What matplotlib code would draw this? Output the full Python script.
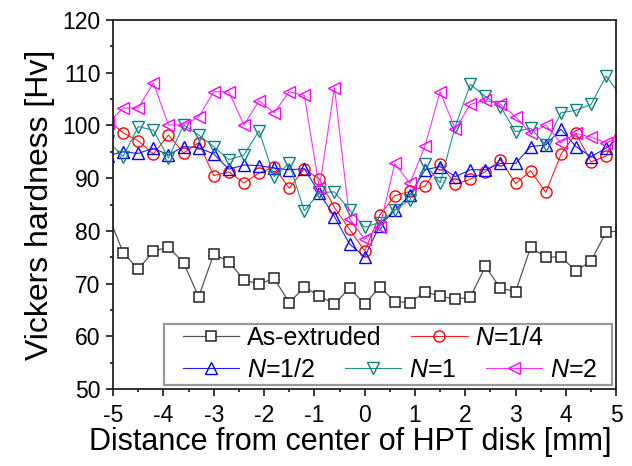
import matplotlib
matplotlib.use("Agg")
import matplotlib.pyplot as plt
from matplotlib.patches import Rectangle
from matplotlib.ticker import MultipleLocator

plt.rc("font", family="Liberation Sans")
plt.rc("mathtext", fontset="custom", it="Liberation Sans:italic", rm="Liberation Sans")
plt.rc("axes", unicode_minus=False)

# distance from disk center [mm]
x = [-5.1, -4.8, -4.5, -4.2, -3.9, -3.6, -3.3, -3.0, -2.7, -2.4, -2.1, -1.8,
     -1.5, -1.2, -0.9, -0.6, -0.3, 0.0, 0.3, 0.6, 0.9, 1.2, 1.5, 1.8, 2.1,
     2.4, 2.7, 3.0, 3.3, 3.6, 3.9, 4.2, 4.5, 4.8, 5.1]

hv_extruded = [83.0, 75.9, 72.7, 76.2, 76.9, 74.0, 67.5, 75.6, 74.2, 70.7, 69.9, 71.0,
               66.4, 69.3, 67.7, 66.1, 69.2, 66.1, 69.4, 66.6, 66.4, 68.5, 67.6, 67.1,
               67.4, 73.3, 69.1, 68.5, 76.9, 75.0, 75.1, 72.4, 74.3, 79.8, 80.0]
hv_n14 = [101.0, 98.6, 97.1, 94.6, 98.2, 94.8, 96.7, 90.5, 91.2, 89.1, 91.0, 92.1,
          88.1, 91.8, 89.8, 84.4, 80.3, 76.2, 83.0, 86.7, 87.5, 88.5, 92.7, 88.9,
          89.8, 91.2, 93.5, 89.0, 91.4, 87.3, 94.5, 98.5, 93.1, 94.2, 101.0]
hv_n12 = [94.3, 95.0, 94.7, 95.7, 94.4, 96.0, 95.8, 94.6, 91.7, 92.5, 92.4, 91.9,
          91.6, 91.8, 87.2, 82.7, 77.5, 75.1, 81.0, 83.9, 86.8, 91.6, 92.2, 90.3,
          91.6, 91.6, 92.8, 92.8, 96.0, 96.3, 99.3, 96.0, 94.1, 95.7, 98.0]
hv_n1 = [97.0, 94.1, 99.8, 99.1, 93.8, 100.1, 98.2, 96.0, 93.5, 94.4, 99.0, 90.3,
         92.8, 83.8, 87.3, 87.4, 84.0, 80.7, 81.6, 84.0, 85.9, 92.7, 89.1, 99.8,
         107.8, 105.5, 103.6, 98.8, 99.5, 96.3, 102.4, 102.9, 104.0, 109.4, 105.5]
hv_n2 = [100.5, 103.3, 103.3, 108.1, 100.1, 100.1, 101.6, 106.4, 106.4, 100.1, 104.7, 102.4,
         106.4, 105.7, 88.1, 107.2, 82.3, 78.4, 80.8, 92.8, 89.0, 96.1, 106.4, 99.3,
         104.0, 104.8, 104.0, 101.7, 98.5, 100.1, 96.7, 98.5, 97.8, 96.7, 98.0]

fig = plt.figure(figsize=(6.32, 4.66), dpi=100)
ax = fig.add_axes([0.179, 0.165, 0.796, 0.792])

h1, = ax.plot(x, hv_extruded, "-s", color="#555555", mec="#222222", mfc="white",
              ms=7.5, mew=1.1, lw=0.9, label="As-extruded")
h2, = ax.plot(x, hv_n14, "-o", color="#ff2020", mec="#ff0000", mfc="none",
              ms=8, mew=1.0, lw=0.8, label="$N$=1/4")
h3, = ax.plot(x, hv_n12, "-^", color="#2020ff", mec="#0000ff", mfc="none",
              ms=8.5, mew=1.0, lw=0.8, label="$N$=1/2")
h4, = ax.plot(x, hv_n1, "-v", color="#209090", mec="#108080", mfc="none",
              ms=8.5, mew=1.0, lw=0.8, label="$N$=1")
h5, = ax.plot(x, hv_n2, "-<", color="#ff30ff", mec="#ff00ff", mfc="none",
              ms=8.5, mew=1.0, lw=0.8, label="$N$=2")

ax.set_xlim(-5, 5)
ax.set_ylim(50, 120)
ax.xaxis.set_major_locator(MultipleLocator(1))
ax.xaxis.set_minor_locator(MultipleLocator(0.5))
ax.yaxis.set_major_locator(MultipleLocator(10))
ax.yaxis.set_minor_locator(MultipleLocator(5))
ax.tick_params(which="both", direction="out", top=False, right=False, width=1.1, labelsize=16.5)
ax.tick_params(which="major", length=5, pad=4)
ax.tick_params(axis="x", which="major", pad=6)
ax.tick_params(which="minor", length=2.5)
for s in ax.spines.values():
    s.set_linewidth(1.3)
    s.set_color("#222222")

ax.set_xlabel("Distance from center of HPT disk [mm]", fontsize=22)
ax.xaxis.set_label_coords(0.471, -0.102)
ax.set_ylabel("Vickers hardness [Hv]", fontsize=23, labelpad=5)

# legend frame with two rows of entries
box = Rectangle((0.101, 0.011), 0.891, 0.165, transform=ax.transAxes,
                facecolor="white", edgecolor="#999999", lw=1.6, zorder=5)
ax.add_patch(box)
opts = dict(loc="center left", frameon=False, fontsize=18, borderpad=0,
            borderaxespad=0, handlelength=2.25, handletextpad=0.3, columnspacing=1.2)
leg1 = ax.legend(handles=[h1, h2], ncol=2, bbox_to_anchor=(0.139, 0.138), **opts)
leg1.set_zorder(6)
ax.add_artist(leg1)
leg2 = ax.legend(handles=[h3, h4, h5], ncol=3, bbox_to_anchor=(0.139, 0.052), **opts)
leg2.set_zorder(6)

fig.savefig("out.png", dpi=100)
plt.close(fig)
